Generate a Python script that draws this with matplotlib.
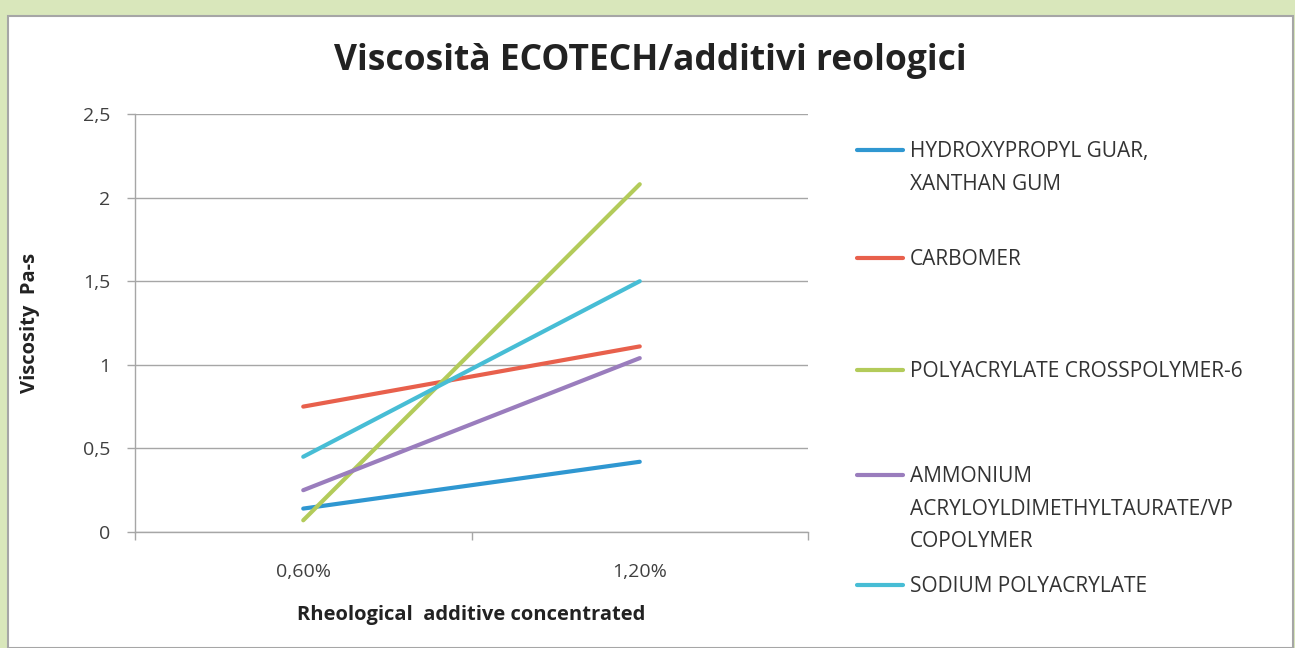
# Viscosity chart: ECOTECH with rheological additives
import matplotlib.pyplot as plt
from matplotlib.lines import Line2D
from matplotlib.patches import Rectangle

plt.rcParams['font.family'] = ['Open Sans', 'DejaVu Sans']

# data
concentrations = ['0,60%', '1,20%']
series_names = [
    'HYDROXYPROPYL GUAR,\nXANTHAN GUM',
    'CARBOMER',
    'POLYACRYLATE CROSSPOLYMER-6',
    'AMMONIUM\nACRYLOYLDIMETHYLTAURATE/VP\nCOPOLYMER',
    'SODIUM POLYACRYLATE',
]
guar = [0.14, 0.42]
carbomer = [0.75, 1.11]
crosspolymer = [0.07, 2.08]
ammonium = [0.25, 1.04]
sodium = [0.45, 1.50]
yticks = [0, 0.5, 1, 1.5, 2, 2.5]
ytick_labels = ['0', '0,5', '1', '1,5', '2', '2,5']

colors = ['#2f97d1', '#e8604c', '#b3cb5a', '#9a7dbd', '#47bdd5']
all_series = [guar, carbomer, crosspolymer, ammonium, sodium]

fig = plt.figure(figsize=(12.95, 6.48), dpi=100)
fig.patch.set_facecolor('#d9e7bb')

# white chart box with grey border
box = Rectangle((8 / 1295, 0), 1285 / 1295, 1 - 16 / 648, transform=fig.transFigure,
                facecolor='white', edgecolor='#a6a6a6', linewidth=1.5, zorder=0)
fig.add_artist(box)

ax = fig.add_axes([135 / 1295, 1 - 532 / 648, 673 / 1295, 418 / 648])
ax.set_facecolor('none')

x = list(range(len(concentrations)))
handles = []
for vals, c in zip(all_series, colors):
    h, = ax.plot(x, vals, color=c, linewidth=3, solid_capstyle='round')
    handles.append(h)

ax.set_xlim(-0.5, len(concentrations) - 0.5)
ax.set_ylim(0, 2.5)
ax.set_yticks(yticks)
ax.set_yticklabels(ytick_labels)
ax.set_xticks(x)
ax.set_xticklabels(concentrations)
ax.set_xticks([-0.5, 0.5, 1.5], minor=True)
ax.tick_params(axis='x', which='major', length=0, pad=22, labelsize=14, labelcolor='#404040')
ax.tick_params(axis='x', which='minor', length=6, color='#a6a6a6', width=1)
ax.tick_params(axis='y', length=6, color='#a6a6a6', width=1, pad=12, labelsize=14, labelcolor='#404040')
ax.grid(axis='y', color='#a6a6a6', linewidth=1)
ax.set_axisbelow(True)
for s in ['top', 'right']:
    ax.spines[s].set_visible(False)
for s in ['left', 'bottom']:
    ax.spines[s].set_color('#a6a6a6')
    ax.spines[s].set_linewidth(1)

ax.set_ylabel('Viscosity  Pa-s', fontsize=14.5, fontweight='bold', color='#222222')
ax.yaxis.set_label_coords((40 - 135) / 673, 0.5)
ax.set_xlabel('Rheological  additive concentrated', fontsize=14.5, fontweight='bold', color='#222222')
ax.xaxis.set_label_coords(0.5, -(605 - 532) / 418)

fig.text(650 / 1295, 1 - 61 / 648, 'Viscosità ECOTECH/additivi reologici', ha='center', va='center',
         fontsize=25.5, fontweight='bold', color='#222222')

# manual legend (Excel-like, first text line aligned with the line sample)
legend_y = [150, 258, 370, 475, 585]
for h, name, ly in zip(handles, series_names, legend_y):
    yf = 1 - ly / 648
    fig.add_artist(Line2D([857 / 1295, 903 / 1295], [yf, yf], transform=fig.transFigure,
                          color=h.get_color(), linewidth=3, solid_capstyle='round'))
    fig.text(910 / 1295, 1 - (ly - 9) / 648, name, ha='left', va='top', fontsize=15,
             color='#333333', linespacing=1.72)

fig.savefig('out.png', dpi=100, facecolor=fig.get_facecolor())
